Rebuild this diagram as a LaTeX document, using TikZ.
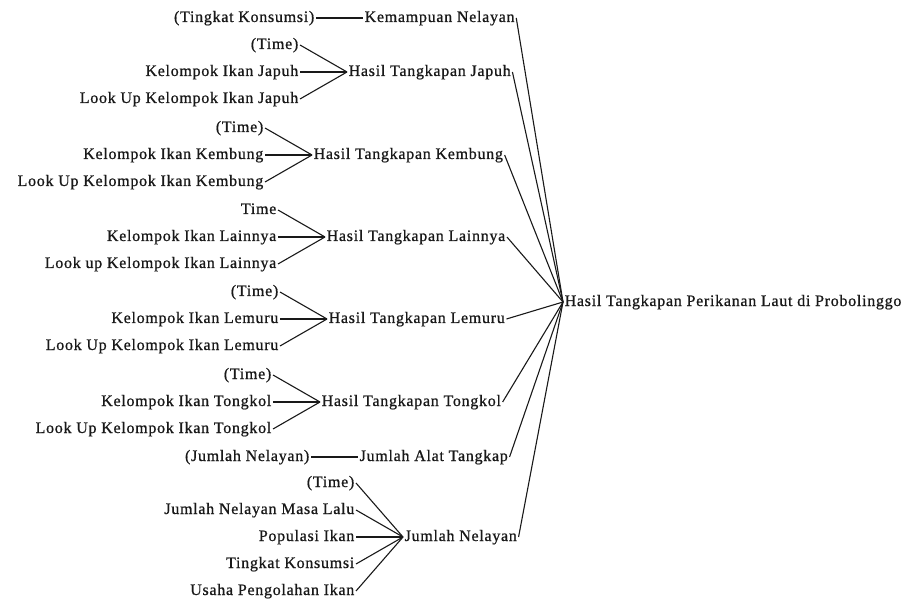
\documentclass[tikz,border=0pt]{standalone}
\usepackage{fontspec}
\setmainfont{Liberation Serif}
\newfontfamily\treefont[LetterSpace=4.5,FakeBold=0.8]{Liberation Serif}
\usetikzlibrary{positioning}
\definecolor{ink}{RGB}{25,25,25}
\tikzset{
  var/.style={inner sep=1.5pt,text height=11pt,text depth=3pt,
    font=\treefont\fontsize{16}{18}\selectfont,text=ink},
  cause/.style={var,anchor=east},
  effect/.style={var,anchor=west},
  link/.style={draw=ink,line width=1.1pt},
}

\begin{document}
\begin{tikzpicture}[x=1pt,y=-1pt]
  \useasboundingbox (0,0) rectangle (912,601);
  % root of the tree
  \node[effect] (root) at (563,302) {Hasil Tangkapan Perikanan Laut di Probolinggo};
  % second level
  \node[effect] (km) at (363,18) {Kemampuan Nelayan};
  \node[effect] (jp) at (347,72) {Hasil Tangkapan Japuh};
  \node[effect] (kb) at (312,155) {Hasil Tangkapan Kembung};
  \node[effect] (ln) at (325,237) {Hasil Tangkapan Lainnya};
  \node[effect] (lm) at (327,319) {Hasil Tangkapan Lemuru};
  \node[effect] (tk) at (320,402) {Hasil Tangkapan Tongkol};
  \node[effect] (at) at (358,457) {Jumlah Alat Tangkap};
  \node[effect] (jn) at (403,537) {Jumlah Nelayan};
  % causes
  \node[cause,left=47pt of km] (kmk) {(Tingkat Konsumsi)};
  \node[cause,left=47pt of jp] (jpk) {Kelompok Ikan Japuh};
  \node[cause] (jpt) at ([yshift=27pt]jpk.east) {(Time)};
  \node[cause] (jpl) at ([yshift=-27pt]jpk.east) {Look Up Kelompok Ikan Japuh};
  \node[cause,left=47pt of kb] (kbk) {Kelompok Ikan Kembung};
  \node[cause] (kbt) at ([yshift=27pt]kbk.east) {(Time)};
  \node[cause] (kbl) at ([yshift=-27pt]kbk.east) {Look Up Kelompok Ikan Kembung};
  \node[cause,left=47pt of ln] (lnk) {Kelompok Ikan Lainnya};
  \node[cause] (lnt) at ([yshift=27pt]lnk.east) {Time};
  \node[cause] (lnl) at ([yshift=-27pt]lnk.east) {Look up Kelompok Ikan Lainnya};
  \node[cause,left=47pt of lm] (lmk) {Kelompok Ikan Lemuru};
  \node[cause] (lmt) at ([yshift=27pt]lmk.east) {(Time)};
  \node[cause] (lml) at ([yshift=-27pt]lmk.east) {Look Up Kelompok Ikan Lemuru};
  \node[cause,left=47pt of tk] (tkk) {Kelompok Ikan Tongkol};
  \node[cause] (tkt) at ([yshift=27pt]tkk.east) {(Time)};
  \node[cause] (tkl) at ([yshift=-27pt]tkk.east) {Look Up Kelompok Ikan Tongkol};
  \node[cause,left=47pt of at] (atk) {(Jumlah Nelayan)};
  \node[cause,left=47pt of jn] (jnp) {Populasi Ikan};
  \node[cause] (jnt) at ([yshift=54pt]jnp.east) {(Time)};
  \node[cause] (jnm) at ([yshift=27pt]jnp.east) {Jumlah Nelayan Masa Lalu};
  \node[cause] (jnk) at ([yshift=-27pt]jnp.east) {Tingkat Konsumsi};
  \node[cause] (jnu) at ([yshift=-54pt]jnp.east) {Usaha Pengolahan Ikan};
  % connectors
  \draw[link] (kmk.east) -- (km.west);
  \draw[link] (atk.east) -- (at.west);
  \foreach \g in {jp,kb,ln,lm,tk}
    \foreach \s in {t,k,l} \draw[link] (\g\s.east) -- (\g.west);
  \foreach \s in {t,m,p,k,u} \draw[link] (jn\s.east) -- (jn.west);
  \foreach \m in {km,jp,kb,ln,lm,tk,at,jn} \draw[link] (\m.east) -- (root.west);
\end{tikzpicture}
\end{document}
